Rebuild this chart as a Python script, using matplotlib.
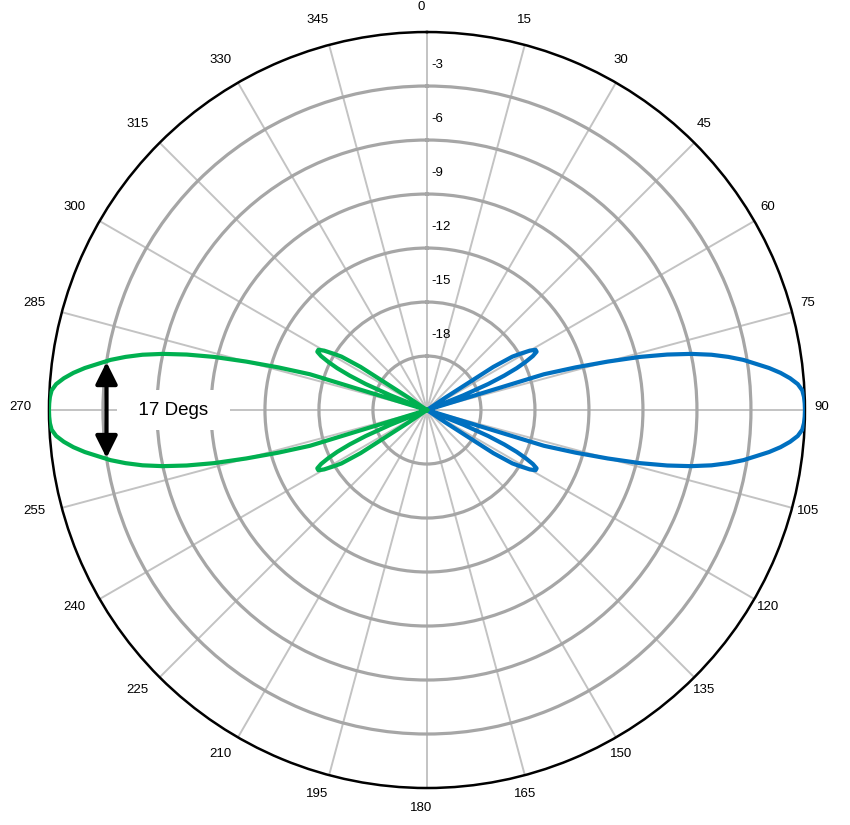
import numpy as np
import matplotlib.pyplot as plt
import matplotlib.transforms as mtransforms

plt.rcParams['font.family'] = ['Liberation Sans', 'DejaVu Sans']

# half of each beam: offset from beam axis (deg) -> level (dB)
offset_deg = [0, 1, 2, 3, 4, 5, 6, 7, 8, 9, 10, 11, 12, 13, 14, 15, 16, 17, 18,
              19, 20, 21, 22, 23, 24, 25, 26, 27, 28, 29, 30, 31, 32, 33, 34, 35]
level_db = [0.0, -0.01, -0.04, -0.12, -0.35, -0.75, -1.25, -1.85, -2.55, -3.2,
            -4.0, -4.9, -6.0, -7.3, -8.8, -10.6, -12.4, -14.2, -21.0,
            -21.0, -21.0, -21.0, -18.8, -17.3, -16.3, -15.5, -14.9, -14.4, -14.1,
            -14.1, -14.4, -14.9, -15.4, -16.6, -19.8, -21.0]

beam_axes = [90, 270]          # blue beam, green beam
beam_colors = ['#0070c0', '#00b050']

ring_values = [-18, -15, -12, -9, -6, -3]
angle_ticks = list(range(0, 360, 15))
r_min, r_max = -21, 0

beamwidth = 17                 # degrees at -3 dB
beamwidth_level = -3
note_text = "17 Degs"

fig = plt.figure(figsize=(8.5, 8.25), dpi=100)
ax = fig.add_axes([0.0576, 0.0448, 0.8894, 0.9164], projection='polar')
ax.set_theta_zero_location('N')
ax.set_theta_direction(-1)
ax.set_rlim(r_min, r_max)

ax.set_xticks(np.deg2rad(angle_ticks))
ax.set_yticks(ring_values)
ax.set_xticklabels([])
ax.set_yticklabels([])
ax.tick_params(length=0)
ax.xaxis.grid(True, color='#c3c3c3', lw=1.4)
ax.yaxis.grid(True, color='#a6a6a6', lw=2.3)
ax.spines['polar'].set_color('black')
ax.spines['polar'].set_linewidth(1.8)

# full lobe: mirror the half pattern around the beam axis
half_off = np.array(offset_deg)
half_lvl = np.array(level_db)
full_off = np.concatenate([-half_off[::-1], half_off[1:]])
full_lvl = np.concatenate([half_lvl[::-1], half_lvl[1:]])

for axis_deg, col in zip(beam_axes, beam_colors):
    ax.plot(np.deg2rad(axis_deg + full_off), full_lvl, color=col, lw=3.0,
            solid_joinstyle='round', zorder=3)

# angle labels around the outside
lab_tr = mtransforms.offset_copy(ax.transData, fig=fig, x=-6, y=3, units='dots')
for a in angle_ticks:
    ax.text(np.deg2rad(a), 1.25, str(a), ha='center', va='center',
            fontsize=9.5, transform=lab_tr, clip_on=False)

# ring labels along the 0 deg spoke
ring_tr = mtransforms.offset_copy(ax.transData, fig=fig, x=4, y=0, units='dots')
for v in ring_values:
    ax.text(0, v + 1.17, str(v), ha='left', va='center', fontsize=9.5,
            transform=ring_tr)

# beamwidth arrow on the green beam
ax.annotate("", xy=(np.deg2rad(270 + beamwidth / 2), beamwidth_level),
            xytext=(np.deg2rad(270 - beamwidth / 2), beamwidth_level),
            arrowprops=dict(arrowstyle='<|-|>,head_length=1.1,head_width=0.55',
                            color='black', lw=3, shrinkA=0, shrinkB=0,
                            mutation_scale=12),
            zorder=5)

ax.text(np.deg2rad(270), -6.9, "  " + note_text + "  ", ha='center', va='center',
        fontsize=13.5, zorder=4,
        bbox=dict(boxstyle='square,pad=0.6', fc='white', ec='none'))

fig.savefig('out.png', dpi=100)
